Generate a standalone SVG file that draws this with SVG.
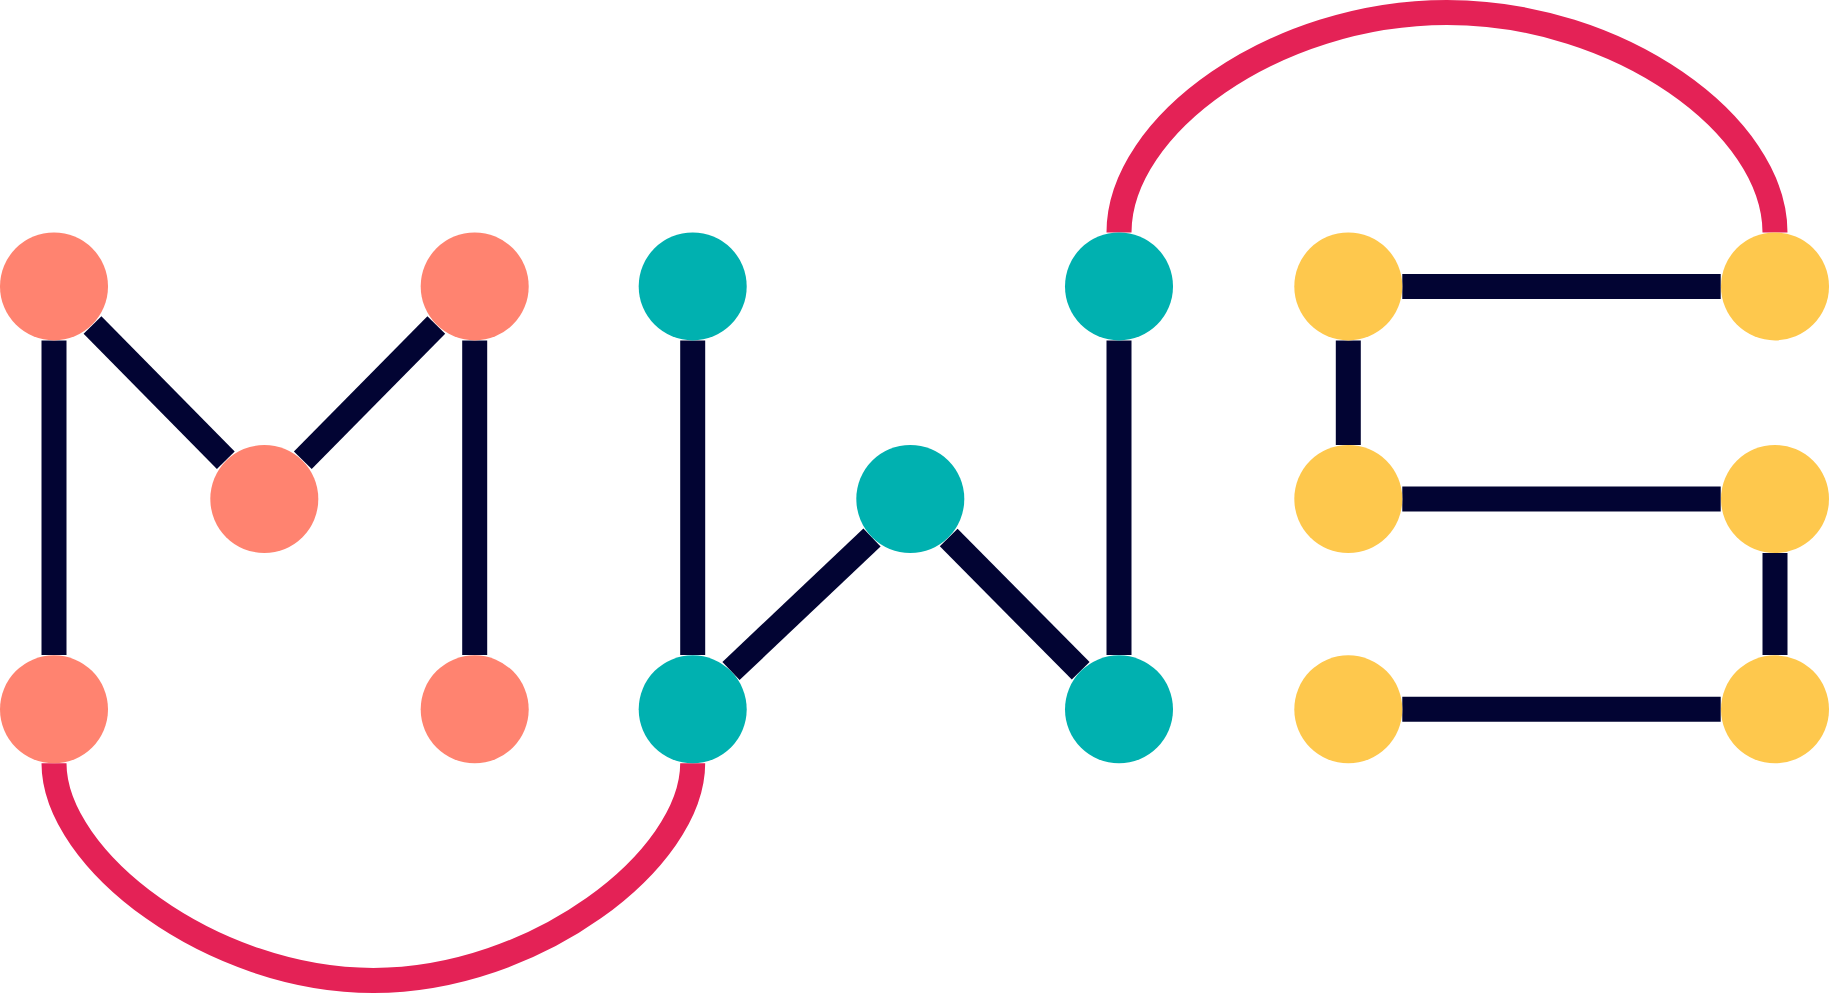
<svg xmlns="http://www.w3.org/2000/svg" width="1829" height="993" viewBox="0 0 1829 993">
<style>
.coral{fill:#FF8370}.teal{fill:#00B1B0}.yellow{fill:#FEC84D}
.edge{fill:none;stroke:#020433;stroke-width:25}
.arc{fill:none;stroke:#E42256;stroke-width:25}
</style>
<rect width="1829" height="993" fill="#ffffff"/>
<g id="connectors">
<path class="edge" d="M54 340.5V655"/>
<path class="edge" d="M92.5 325L225.8 460.3"/>
<path class="edge" d="M436.3 325L302.8 460.3"/>
<path class="edge" d="M474.7 340.5V655"/>
<path class="edge" d="M692.7 340.5V655"/>
<path class="edge" d="M731 671L872 537.5"/>
<path class="edge" d="M948.7 537.5L1080.7 670.8"/>
<path class="edge" d="M1119 340.5V655"/>
<path class="edge" d="M1348.3 340.5V445"/>
<path class="edge" d="M1402.3 286.5H1720.7"/>
<path class="edge" d="M1402.3 499H1720.7"/>
<path class="edge" d="M1402.3 709.3H1720.7"/>
<path class="edge" d="M1775 553V655"/>
<path class="arc" d="M1119 232.4C1119 125 1275 12.5 1447 12.5C1619 12.5 1775 125 1775 232.4"/>
<path class="arc" d="M54 763.3C54 860 211.8 980.5 373.4 980.5C535 980.5 692.7 860 692.7 763.3"/>
</g>
<g id="m1"><circle class="coral" cx="54" cy="286.4" r="54"/></g>
<g id="m2"><circle class="coral" cx="264.3" cy="499" r="54"/></g>
<g id="m3"><circle class="coral" cx="474.7" cy="286.4" r="54"/></g>
<g id="m4"><circle class="coral" cx="54" cy="709.3" r="54"/></g>
<g id="m5"><circle class="coral" cx="474.7" cy="709.3" r="54"/></g>
<g id="w1"><circle class="teal" cx="692.7" cy="286.4" r="54"/></g>
<g id="w2"><circle class="teal" cx="692.7" cy="709.3" r="54"/></g>
<g id="w3"><circle class="teal" cx="910.3" cy="499" r="54"/></g>
<g id="w4"><circle class="teal" cx="1119" cy="286.4" r="54"/></g>
<g id="w5"><circle class="teal" cx="1119" cy="709.3" r="54"/></g>
<g id="e1"><circle class="yellow" cx="1348.3" cy="286.4" r="54"/></g>
<g id="e2"><circle class="yellow" cx="1348.3" cy="499" r="54"/></g>
<g id="e3"><circle class="yellow" cx="1348.3" cy="709.3" r="54"/></g>
<g id="e4"><circle class="yellow" cx="1775" cy="286.4" r="54"/></g>
<g id="e5"><circle class="yellow" cx="1775" cy="499" r="54"/></g>
<g id="e6"><circle class="yellow" cx="1775" cy="709.3" r="54"/></g>
</svg>
